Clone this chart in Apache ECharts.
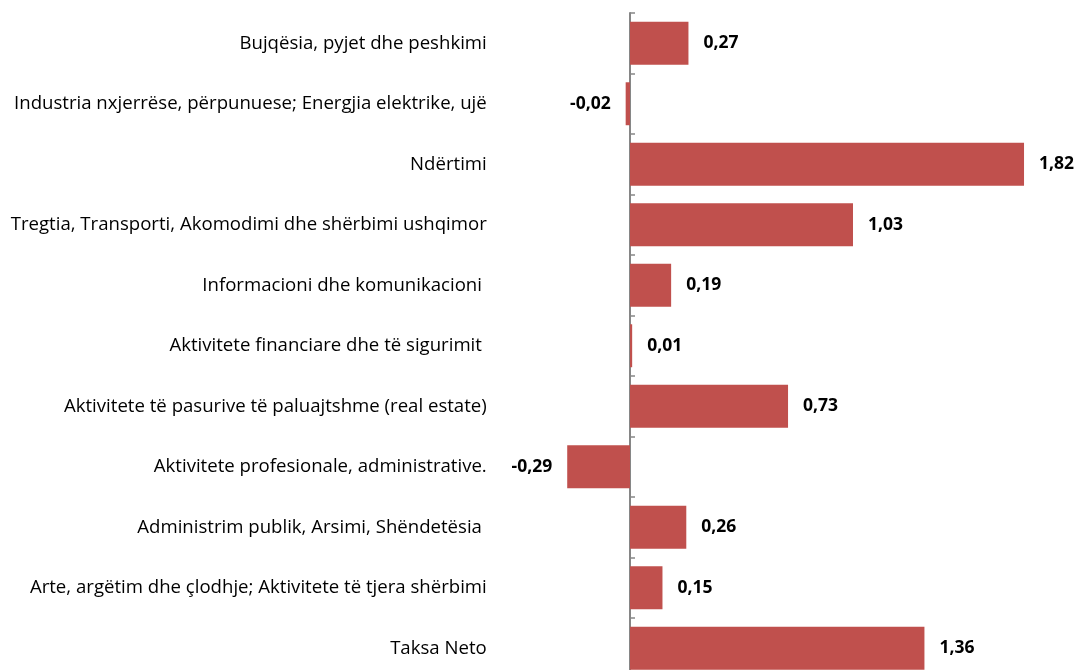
<!DOCTYPE html>
<html><head><meta charset="utf-8">
<script src="https://cdn.jsdelivr.net/npm/echarts@6/dist/echarts.min.js"></script>
<style>html,body{margin:0;padding:0;background:#fff}#c{width:1080px;height:670px}</style>
</head><body><div id="c"></div>
<script>
const categories = [
  "Bujqësia, pyjet dhe peshkimi",
  "Industria nxjerrëse, përpunuese; Energjia elektrike, ujë",
  "Ndërtimi",
  "Tregtia, Transporti, Akomodimi dhe shërbimi ushqimor",
  "Informacioni dhe komunikacioni ",
  "Aktivitete financiare dhe të sigurimit ",
  "Aktivitete të pasurive të paluajtshme (real estate)",
  "Aktivitete profesionale, administrative.",
  "Administrim publik, Arsimi, Shëndetësia ",
  "Arte, argëtim dhe çlodhje; Aktivitete të tjera shërbimi",
  "Taksa Neto"
];
const values = [0.27, -0.02, 1.82, 1.03, 0.19, 0.01, 0.73, -0.29, 0.26, 0.15, 1.36];

const chart = echarts.init(document.getElementById('c'), null, {renderer: 'canvas'});
const fmt = v => v.toFixed(2).replace('.', ',');
chart.setOption({
  animation: false,
  grid: {left: 521.75, width: 541.25, top: 13, height: 665.5, containLabel: false, outerBoundsMode: 'none'},
  xAxis: {
    type: 'value', min: -0.5, max: 2.0, show: false
  },
  yAxis: {
    type: 'category', data: categories, inverse: true,
    axisLine: {show: true, onZero: true, lineStyle: {color: '#868686', width: 2}},
    axisTick: {show: true, inside: true, length: 5, lineStyle: {color: '#868686', width: 1.5}},
    axisLabel: {margin: 35, color: '#000', fontFamily: 'Open Sans', fontSize: 18.6, padding: [3, 0, 0, 0]},
    splitLine: {show: false}
  },
  series: [{
    type: 'bar',
    barCategoryGap: '29%',
    itemStyle: {color: '#C0504D'},
    data: values.map(v => ({
      value: v,
      label: {show: true, position: v < 0 ? 'left' : 'right', distance: 15,
        formatter: p => fmt(p.value), color: '#000', fontWeight: 'bold',
        fontFamily: 'Open Sans', fontSize: 17.5, padding: [3, 0, 0, 0]}
    }))
  }]
});
</script></body></html>
